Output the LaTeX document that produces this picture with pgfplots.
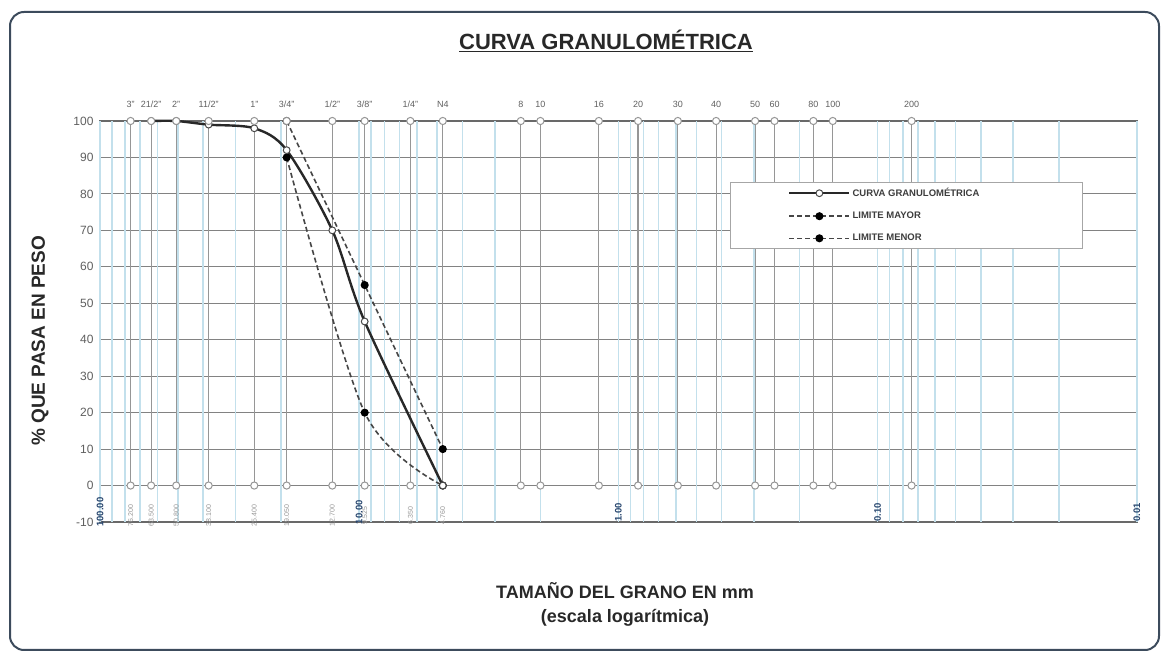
\documentclass[border=0pt]{standalone}
\usepackage{fontspec}
\setmainfont{Liberation Sans}
\usepackage{pgfplots}
\pgfplotsset{compat=1.18}
\definecolor{lgrid}{RGB}{195,224,236}
\definecolor{sieve}{RGB}{150,150,150}
\definecolor{hgrid}{RGB}{130,130,130}
\definecolor{frame}{RGB}{105,105,105}
\definecolor{curve}{RGB}{40,40,40}
\definecolor{lim}{RGB}{70,70,70}
\definecolor{dec}{RGB}{40,70,110}
\definecolor{border}{RGB}{60,75,92}
\definecolor{lbl}{RGB}{95,95,95}
\begin{document}
\begin{tikzpicture}
\useasboundingbox (0,0) rectangle (1164bp,655bp);
\draw[border, line width=2bp, rounded corners=14bp] (10bp,5bp) rectangle (1159bp,643bp);
\node[font=\fontsize{22bp}{26bp}\selectfont\bfseries, text=curve] at (606bp,614bp) {\underline{CURVA GRANULOMÉTRICA}};
\node[font=\fontsize{18bp}{24bp}\selectfont\bfseries, text=curve, align=center] at (625bp,51bp) {TAMAÑO DEL GRANO EN mm\\(escala logarítmica)};
\node[font=\fontsize{19bp}{22bp}\selectfont\bfseries, text=curve, rotate=90] at (40bp,314bp) {\% QUE PASA EN PESO};
\begin{axis}[
  at={(100bp,133bp)}, anchor=south west,
  scale only axis, width=1037bp, height=401bp,
  xmode=log, x dir=reverse, xmin=0.01, xmax=100,
  ymin=-10, ymax=100, clip=false,
  axis line style={frame, line width=1.3bp},
  ytick={-10,0,10,20,30,40,50,60,70,80,90,100},
  ymajorgrids, y grid style={hgrid, line width=1.1bp},
  /pgf/number format/assume math mode=true,
  yticklabel style={font=\fontsize{12bp}{14bp}\selectfont, text=lbl, xshift=-3bp},
  xtick={76.2,63.5,50.8,38.1,25.4,19.05,12.7,9.525,6.35,4.76,2.38,2.0,1.19,0.84,0.59,0.42,0.297,0.25,0.177,0.149,0.074},
  xticklabels={3",21/2",2",11/2",1",3/4",1/2",3/8",1/4",N4,8,10,16,20,30,40,50,60,80,100,200},
  xticklabel pos=upper,
  xticklabel style={font=\fontsize{9bp}{10bp}\selectfont, text=lbl, yshift=10bp},
  major tick length=0pt, minor tick length=0pt,
  extra x ticks={0.01,0.02,0.03,0.04,0.05,0.06,0.07,0.08,0.09,0.1,0.2,0.3,0.4,0.5,0.6,0.7,0.8,0.9,1,2,3,4,5,6,7,8,9,10,20,30,40,50,60,70,80,90,100},
  extra x tick labels={},
  extra x tick style={grid=major, major grid style={lgrid, line width=1.6bp}},
  legend style={at={(0.6075,0.848)}, anchor=north west, draw=gray!70, line width=0.6bp, fill=white,
    font=\fontsize{9.5bp}{11bp}\selectfont\bfseries, text=curve!90,
    inner xsep=58bp, inner ysep=4bp, row sep=10bp},
  legend cell align=left,
  legend image code/.code={\draw[#1, mark repeat=2, mark phase=2] plot coordinates {(0bp,0bp) (30bp,0bp) (60bp,0bp)};},
]
\addlegendimage{curve, line width=2.4bp, mark=*, mark size=3.4bp, mark options={solid, fill=white, draw=curve!85, line width=1bp}}
\addlegendentry{\makebox[170bp][l]{CURVA GRANULOMÉTRICA}}
\addlegendimage{lim, line width=1.6bp, dash pattern=on 5bp off 3bp, mark=*, mark size=3.2bp, mark options={solid, fill=black, draw=black}}
\addlegendentry{\makebox[170bp][l]{LIMITE MAYOR}}
\addlegendimage{lim, line width=1.6bp, dash pattern=on 5bp off 3bp, mark=*, mark size=3.2bp, mark options={solid, fill=black, draw=black}}
\addlegendentry{\makebox[170bp][l]{LIMITE MENOR}}
% sieve lines
\addplot[ycomb, sieve, line width=1.2bp, mark=none, forget plot] coordinates {
 (76.2,100) (63.5,100) (50.8,100) (38.1,100) (25.4,100) (19.05,100) (12.7,100) (9.525,100) (6.35,100) (4.76,100)
 (2.38,100) (2.0,100) (1.19,100) (0.84,100) (0.59,100) (0.42,100) (0.297,100) (0.25,100) (0.177,100) (0.149,100) (0.074,100)};
% bottom sieve markers
\addplot[only marks, mark=*, mark size=3.6bp, mark options={fill=white, draw=sieve, line width=1bp}, forget plot] coordinates {
 (76.2,0) (63.5,0) (50.8,0) (38.1,0) (25.4,0) (19.05,0) (12.7,0) (9.525,0) (6.35,0) (4.76,0)
 (2.38,0) (2.0,0) (1.19,0) (0.84,0) (0.59,0) (0.42,0) (0.297,0) (0.25,0) (0.177,0) (0.149,0) (0.074,0)};
% sieve mm labels
\addplot[draw=none, mark=none, forget plot, nodes near coords, point meta=explicit symbolic,
  nodes near coords style={rotate=90, anchor=center, font=\fontsize{7bp}{8bp}\selectfont, text=sieve}] coordinates {
 (76.2,-8.3)[76.200] (63.5,-8.3)[63.500] (50.8,-8.3)[50.800] (38.1,-8.3)[38.100] (25.4,-8.3)[25.400]
 (19.05,-8.3)[19.050] (12.7,-8.3)[12.700] (9.525,-8.3)[9.525] (6.35,-8.3)[6.350] (4.76,-8.3)[4.760]};
% decade labels
\addplot[draw=none, mark=none, forget plot, nodes near coords, point meta=explicit symbolic,
  nodes near coords style={rotate=90, anchor=center, font=\fontsize{9.5bp}{10bp}\selectfont\bfseries, text=dec}] coordinates {
 (100,-7.3)[100.00] (10,-7.3)[10.00] (1,-7.3)[1.00] (0.1,-7.3)[0.10] (0.01,-7.3)[0.01]};
% limits
\addplot[lim, line width=1.6bp, dash pattern=on 5bp off 3bp, smooth, mark=*, mark size=3.2bp,
  mark options={solid, fill=black, draw=black}, forget plot] coordinates {
 (19.05,100) (9.525,55) (4.76,10)};
\addplot[lim, line width=1.6bp, dash pattern=on 5bp off 3bp, smooth, mark=*, mark size=3.2bp,
  mark options={solid, fill=black, draw=black}, forget plot] coordinates {
 (19.05,90) (9.525,20) (4.76,0)};
% curve
\addplot[curve, line width=2.4bp, smooth, tension=0.5, mark=*, mark size=3.4bp,
  mark options={solid, fill=white, draw=curve!85, line width=1bp}, forget plot] coordinates {
 (63.5,100) (50.8,100) (38.1,99) (25.4,98) (19.05,92) (12.7,70) (9.525,45) (4.76,0)};
% top sieve markers
\addplot[only marks, mark=*, mark size=3.6bp, mark options={fill=white, draw=sieve, line width=1bp}, forget plot] coordinates {
 (76.2,100) (63.5,100) (50.8,100) (38.1,100) (25.4,100) (19.05,100) (12.7,100) (9.525,100) (6.35,100) (4.76,100)
 (2.38,100) (2.0,100) (1.19,100) (0.84,100) (0.59,100) (0.42,100) (0.297,100) (0.25,100) (0.177,100) (0.149,100) (0.074,100)};
\end{axis}
\end{tikzpicture}
\end{document}
